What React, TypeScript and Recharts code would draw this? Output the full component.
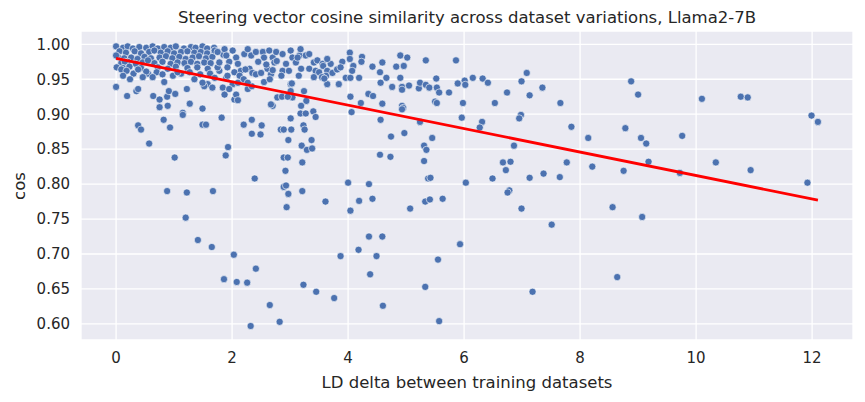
import {
  CartesianGrid,
  Label,
  Scatter,
  ScatterChart,
  XAxis,
  YAxis,
} from "recharts";

// [LD delta, cosine similarity], grouped by region
const denseLeftBand: [number, number][] = [
  [0.0, 0.997], [0.12, 0.995], [0.2, 0.997], [0.29, 0.994], [0.4, 0.996], [0.52, 0.995],
  [0.63, 0.997], [0.72, 0.994], [0.83, 0.996], [0.94, 0.995], [1.03, 0.997], [1.17, 0.994],
  [1.29, 0.996], [1.37, 0.995], [1.49, 0.997], [1.57, 0.994], [1.69, 0.995],
  [0.06, 0.99], [0.17, 0.988], [0.32, 0.99], [0.43, 0.987], [0.57, 0.989], [0.66, 0.991],
  [0.77, 0.988], [0.89, 0.99], [1.0, 0.987], [1.12, 0.989], [1.23, 0.99], [1.35, 0.988],
  [1.46, 0.989], [1.57, 0.987], [1.69, 0.989],
  [0.03, 0.982], [0.14, 0.98], [0.26, 0.981], [0.37, 0.979], [0.49, 0.982], [0.6, 0.98],
  [0.75, 0.981], [0.86, 0.983], [0.97, 0.98], [1.09, 0.982], [1.2, 0.979], [1.32, 0.981],
  [1.43, 0.983], [1.55, 0.98], [1.66, 0.982],
  [0.09, 0.973], [0.2, 0.975], [0.34, 0.972], [0.46, 0.974], [0.66, 0.973], [0.8, 0.975],
  [0.94, 0.972], [1.06, 0.974], [1.18, 0.973], [1.29, 0.975], [1.4, 0.972], [1.52, 0.974],
  [1.63, 0.973], [0.15, 0.975], [0.55, 0.977],
  [0.12, 0.966], [0.23, 0.968], [0.43, 0.966], [0.72, 0.967], [0.89, 0.965], [1.03, 0.968],
  [1.23, 0.966], [1.4, 0.967], [1.58, 0.965],
  [0.3, 0.958], [0.55, 0.958], [0.7, 0.96], [0.8, 0.957], [0.98, 0.955], [1.12, 0.958],
  [1.27, 0.96], [1.45, 0.957], [1.62, 0.958], [1.78, 0.962], [1.85, 0.985], [1.95, 0.975],
  [0.0, 0.984], [0.01, 0.967], [0.09, 0.964], [0.18, 0.962], [0.12, 0.955], [0.24, 0.95],
  [0.38, 0.964], [0.52, 0.961], [0.46, 0.953], [0.63, 0.953], [0.83, 0.946], [1.06, 0.96],
  [1.35, 0.95], [1.58, 0.943], [0.0, 0.939], [0.19, 0.926], [0.35, 0.933], [0.38, 0.936],
  [0.64, 0.926], [0.75, 0.921], [0.88, 0.925], [0.91, 0.933], [1.02, 0.929], [0.75, 0.91],
  [0.89, 0.912], [1.22, 0.936], [1.15, 0.902], [1.27, 0.915], [1.49, 0.908], [1.52, 0.94],
  [1.66, 0.938], [1.7, 0.952], [1.75, 0.967], [1.84, 0.938], [1.9, 0.952], [1.87, 0.928],
  [2.04, 0.921], [2.07, 0.928], [2.01, 0.943], [1.49, 0.945],
];

const denseMidBand: [number, number][] = [
  [1.7, 0.991], [1.75, 0.989], [1.87, 0.993], [1.9, 0.984], [2.01, 0.991], [2.07, 0.981],
  [2.21, 0.986], [2.27, 0.993], [2.33, 0.984], [2.41, 0.989], [2.53, 0.989], [2.55, 0.981],
  [2.64, 0.991], [2.7, 0.981], [2.76, 0.989], [2.87, 0.986], [3.01, 0.991], [3.04, 0.981],
  [3.16, 0.984], [3.18, 0.993], [3.27, 0.984], [3.33, 0.986], [3.41, 0.974], [3.47, 0.977],
  [3.56, 0.972],
  [1.78, 0.974], [1.92, 0.967], [2.1, 0.972], [2.15, 0.962], [2.3, 0.965], [2.61, 0.965],
  [2.67, 0.957], [2.73, 0.974], [2.93, 0.972], [2.87, 0.962], [2.98, 0.962], [3.1, 0.974],
  [3.19, 0.965], [3.33, 0.965], [3.44, 0.962], [2.45, 0.975], [3.7, 0.972], [3.9, 0.975],
  [1.92, 0.955], [2.04, 0.96], [2.13, 0.955], [2.55, 0.946], [3.01, 0.943], [3.41, 0.953],
  [2.35, 0.959], [2.41, 0.957], [2.5, 0.959], [2.59, 0.971], [2.7, 0.963], [2.23, 0.964],
  [2.77, 0.976], [3.13, 0.981], [2.85, 0.955], [3.15, 0.955], [3.5, 0.96], [2.2, 0.95],
  [2.65, 0.95],
  [3.03, 0.944], [3.01, 0.933], [3.04, 0.924], [3.24, 0.933], [3.28, 0.919], [3.19, 0.912],
  [2.7, 0.912], [2.67, 0.914], [2.78, 0.924], [2.86, 0.925], [2.96, 0.925], [2.1, 0.92],
  [2.27, 0.936], [2.34, 0.94], [1.95, 0.936], [2.1, 0.945], [2.27, 0.945],
];

const upperRightBand: [number, number][] = [
  [3.57, 0.969], [3.64, 0.979], [3.64, 0.962], [3.62, 0.955], [3.73, 0.959], [3.81, 0.964],
  [3.87, 0.967], [4.03, 0.988], [4.03, 0.979], [4.09, 0.969], [4.24, 0.982], [4.23, 0.975],
  [4.07, 0.962], [3.96, 0.952], [4.04, 0.952], [4.19, 0.952], [3.84, 0.943], [3.64, 0.943],
  [3.55, 0.953], [3.59, 0.951], [4.42, 0.968], [4.35, 0.929], [4.43, 0.926], [4.04, 0.925],
  [4.22, 0.916], [4.06, 0.903],
  [4.59, 0.974], [4.9, 0.984], [5.02, 0.981], [4.83, 0.968], [4.96, 0.969], [5.34, 0.977],
  [5.86, 0.977], [4.55, 0.96], [4.66, 0.952], [4.9, 0.952], [4.56, 0.945], [4.76, 0.939],
  [4.93, 0.939], [4.93, 0.935], [5.05, 0.941], [5.22, 0.937], [5.24, 0.945], [5.34, 0.942],
  [5.4, 0.938], [5.52, 0.951], [5.53, 0.938], [5.57, 0.931], [5.74, 0.931], [5.89, 0.944],
  [5.5, 0.918], [5.53, 0.916], [4.59, 0.915], [4.93, 0.912], [4.95, 0.909],
];

const spreadRight: [number, number][] = [
  [6.01, 0.948], [6.02, 0.942], [6.15, 0.952], [6.32, 0.951], [6.41, 0.945], [7.08, 0.959],
  [6.99, 0.947], [7.35, 0.938], [6.74, 0.931], [7.13, 0.927], [5.98, 0.916], [6.53, 0.916],
  [7.66, 0.916], [8.88, 0.947], [9.0, 0.928], [5.96, 0.895], [6.98, 0.899], [6.95, 0.894],
  [6.31, 0.889], [6.27, 0.881], [7.85, 0.882], [8.14, 0.866], [8.78, 0.88], [9.05, 0.866],
  [9.14, 0.858], [6.86, 0.855], [6.67, 0.831], [6.8, 0.832], [6.72, 0.82], [7.77, 0.831],
  [8.21, 0.825], [9.18, 0.832], [8.75, 0.819], [6.03, 0.802], [6.49, 0.808], [7.13, 0.809],
  [7.37, 0.815], [7.65, 0.81], [6.78, 0.791], [6.75, 0.788], [6.99, 0.765], [7.51, 0.742],
  [5.93, 0.714], [8.56, 0.767], [9.07, 0.753], [8.64, 0.667], [7.18, 0.646],
  [10.1, 0.922], [10.77, 0.925], [10.89, 0.924], [11.99, 0.898], [12.1, 0.889], [9.76, 0.869],
  [10.34, 0.831], [9.72, 0.816], [10.94, 0.82], [11.92, 0.802],
];

const spreadMiddle: [number, number][] = [
  [1.15, 0.899], [1.82, 0.895], [0.38, 0.884], [0.43, 0.878], [0.82, 0.892], [0.93, 0.881],
  [1.49, 0.885], [1.55, 0.885], [0.57, 0.858], [2.2, 0.885], [2.34, 0.892], [2.51, 0.884],
  [2.34, 0.872], [2.49, 0.871], [1.93, 0.853], [1.89, 0.841], [1.01, 0.838], [2.39, 0.808],
  [0.88, 0.79], [1.22, 0.788], [1.67, 0.79], [1.2, 0.752],
  [3.01, 0.894], [3.18, 0.901], [3.27, 0.901], [3.4, 0.904], [3.44, 0.896], [4.93, 0.907],
  [4.56, 0.892], [5.24, 0.889], [2.84, 0.878], [2.89, 0.878], [3.02, 0.878], [3.23, 0.884],
  [3.25, 0.878], [2.97, 0.863], [3.37, 0.863], [3.2, 0.855], [3.29, 0.849], [3.38, 0.851],
  [4.74, 0.868], [4.97, 0.873], [5.45, 0.866], [5.31, 0.855], [5.35, 0.849], [2.89, 0.838],
  [2.96, 0.838], [3.21, 0.831], [4.55, 0.842], [4.73, 0.839], [5.31, 0.833], [2.92, 0.819],
  [5.38, 0.808], [5.42, 0.809], [2.89, 0.796], [2.93, 0.798], [3.21, 0.79], [4.0, 0.802],
  [4.36, 0.8], [2.97, 0.786], [2.94, 0.767], [3.61, 0.775], [4.04, 0.762], [4.19, 0.776],
  [4.42, 0.779], [5.07, 0.765], [5.33, 0.775], [5.41, 0.778], [5.63, 0.779],
];

const lowOutliers: [number, number][] = [
  [1.41, 0.72], [1.65, 0.71], [2.03, 0.699], [2.41, 0.679], [1.86, 0.664], [2.08, 0.66],
  [2.26, 0.659], [2.65, 0.627], [2.32, 0.597], [2.82, 0.603], [3.23, 0.656], [3.45, 0.646],
  [3.76, 0.637], [3.87, 0.697], [4.18, 0.706], [4.36, 0.725], [4.59, 0.725], [4.49, 0.697],
  [4.38, 0.671], [4.6, 0.626], [5.55, 0.692], [5.33, 0.653], [5.57, 0.604],
];

// fitted line end points as drawn in the reference
const fitLd = [0, 12.1];
const fitCos = [0.98, 0.777];

const xTicks = [0, 2, 4, 6, 8, 10, 12];
const yTicks = [0.6, 0.65, 0.7, 0.75, 0.8, 0.85, 0.9, 0.95, 1.0];

const points = [
  ...denseLeftBand,
  ...denseMidBand,
  ...upperRightBand,
  ...spreadRight,
  ...spreadMiddle,
  ...lowOutliers,
].map(([ld, cos]) => ({ ld, cos }));

const fitLine = fitLd.map((ld, i) => ({ ld, cos: fitCos[i] }));

document.body.style.margin = "0";

const FONT = "DejaVu Sans, sans-serif";
const INK = "#262626";

const Dot = (props: any) => (
  <circle cx={props.cx} cy={props.cy} r={3.6} fill="#4c72b0" stroke="#ffffff" strokeWidth={0.6} />
);

export default function App() {
  return (
    <div style={{ position: "relative", width: 865, height: 402, fontFamily: FONT, background: "#fff" }}>
      <div
        style={{
          position: "absolute",
          top: 8,
          left: 81,
          width: 772,
          textAlign: "center",
          fontSize: 16.5,
          color: INK,
          lineHeight: "20px",
        }}
      >
        Steering vector cosine similarity across dataset variations, Llama2-7B
      </div>
      <ScatterChart width={865} height={402} margin={{ top: 31, right: 12, bottom: 0, left: 0 }}>
        <CartesianGrid stroke="#ffffff" strokeWidth={1.3} fill="#eaeaf2" fillOpacity={1} />
        <XAxis
          type="number"
          dataKey="ld"
          domain={[-0.605, 12.705]}
          ticks={xTicks}
          axisLine={false}
          tickLine={false}
          tickMargin={6}
          height={62}
          tick={{ fill: INK, fontSize: 15, fontFamily: FONT }}
        >
          <Label
            value="LD delta between training datasets"
            position="insideBottom"
            offset={14}
            style={{ fill: INK, fontSize: 16.5, fontFamily: FONT }}
          />
        </XAxis>
        <YAxis
          type="number"
          dataKey="cos"
          domain={[0.577, 1.019]}
          ticks={yTicks}
          tickFormatter={(v: number) => v.toFixed(2)}
          axisLine={false}
          tickLine={false}
          tickMargin={5}
          width={81}
          tick={{ fill: INK, fontSize: 15, fontFamily: FONT }}
        >
          <Label
            content={() => (
              <text
                x={19}
                y={186}
                transform="rotate(-90 19 186)"
                textAnchor="middle"
                dominantBaseline="central"
                style={{ fill: INK, fontSize: 16.5, fontFamily: FONT }}
              >
                cos
              </text>
            )}
          />
        </YAxis>
        <Scatter data={points} shape={Dot} isAnimationActive={false} />
        <Scatter
          data={fitLine}
          line={{ stroke: "#ff0000", strokeWidth: 2.8 }}
          shape={() => <g />}
          isAnimationActive={false}
        />
      </ScatterChart>
    </div>
  );
}
